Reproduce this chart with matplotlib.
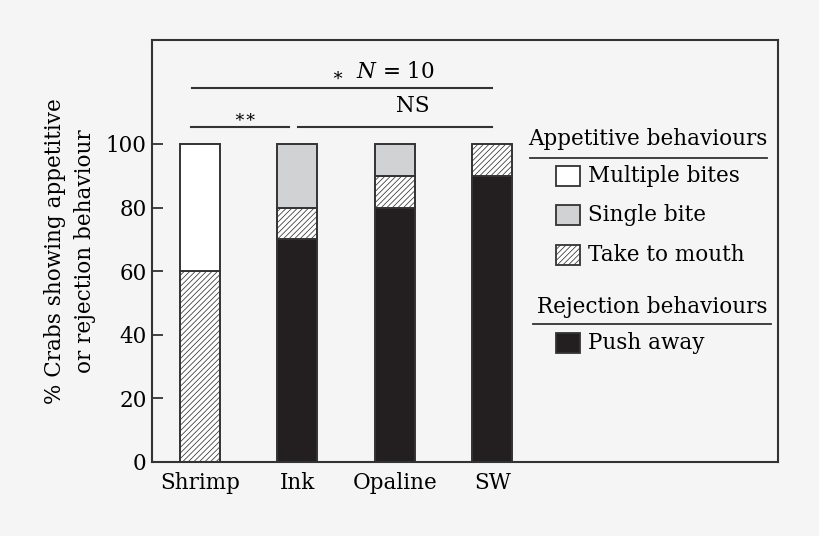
import matplotlib
matplotlib.use("Agg")
import matplotlib.pyplot as plt
from matplotlib.patches import Rectangle
import numpy as np

categories = ["Shrimp", "Ink", "Opaline", "SW"]
push_away = [0, 70, 80, 90]
take_to_mouth = [60, 10, 10, 10]
single_bite = [0, 20, 10, 0]
multiple_bites = [40, 0, 0, 0]
yticks = [0, 20, 40, 60, 80, 100]

plt.rcParams['font.family'] = ['DejaVu Serif']
plt.rcParams['mathtext.fontset'] = 'dejavuserif'
plt.rcParams['hatch.linewidth'] = 0.55
plt.rcParams['hatch.color'] = '#5a5a5a'
FS = 15.5

bg = '#f5f5f5'
edge = '#333333'
fig = plt.figure(figsize=(8.2, 5.36), dpi=100, facecolor=bg)
ax = fig.add_axes([152/820, 1-462/536, (778-152)/820, (462-40)/536])
ax.set_facecolor(bg)

x = np.arange(len(categories))
w = 0.41
bottom = np.zeros(len(categories))
layers = [
    (push_away, '#231f20', None),
    (take_to_mouth, 'white', '//////'),
    (single_bite, '#d1d2d4', None),
    (multiple_bites, 'white', None),
]
for vals, col, hatch in layers:
    vals = np.array(vals, dtype=float)
    mask = vals > 0
    ax.bar(x[mask], vals[mask], w, bottom=bottom[mask], color=col, hatch=hatch,
           edgecolor=edge, linewidth=1.4, zorder=2)
    bottom += vals

ax.set_xlim(-0.49, 5.93)
ax.set_ylim(0, 132.7)
ax.set_yticks(yticks)
ax.set_xticks(x)
ax.set_xticklabels(categories, fontsize=FS)
ax.tick_params(axis='y', direction='in', length=8, width=1.3, labelsize=FS, color=edge, pad=4)
ax.tick_params(axis='x', length=0, pad=7)
for s in ax.spines.values():
    s.set_color(edge)
    s.set_linewidth(1.5)
ax.set_ylabel("% Crabs showing appetitive\nor rejection behaviour", fontsize=FS, linespacing=1.45, labelpad=7)

# significance annotations
ax.plot([-0.08, 3.0], [117.6, 117.6], color=edge, lw=1.5, clip_on=False)
ax.text(1.41, 121.4, "\u2217", ha='center', va='center', fontsize=13)
ax.text(1.60, 122.6, "$N$ = 10", ha='left', va='center', fontsize=FS)
ax.plot([-0.09, 0.91], [105.3, 105.3], color=edge, lw=1.5)
ax.plot([1.01, 3.0], [105.3, 105.3], color=edge, lw=1.5)
ax.text(0.46, 108.6, "\u2217\u2217", ha='center', va='center', fontsize=FS-3)
ax.text(2.18, 111.8, "NS", ha='center', va='center', fontsize=FS)

# legend drawn manually in figure pixel coordinates
def fx(px):
    return px/820
def fy(py):
    return 1 - py/536

fig.text(fx(648), fy(139), "Appetitive behaviours", ha='center', va='center', fontsize=FS)
fig.add_artist(plt.Line2D([fx(530), fx(767)], [fy(158), fy(158)], color=edge, lw=1.3))
items = [("Multiple bites", 'white', None, 176),
         ("Single bite", '#d1d2d4', None, 215),
         ("Take to mouth", 'white', '//////', 255)]
for lab, col, hatch, yy in items:
    fig.add_artist(Rectangle((fx(556), fy(yy+10)), 24/820, 20/536, facecolor=col,
                             hatch=hatch, edgecolor=edge, lw=1.3, transform=fig.transFigure))
    fig.text(fx(588), fy(yy), lab, ha='left', va='center', fontsize=FS)
fig.text(fx(652), fy(307), "Rejection behaviours", ha='center', va='center', fontsize=FS)
fig.add_artist(plt.Line2D([fx(533), fx(771)], [fy(324), fy(324)], color=edge, lw=1.3))
fig.add_artist(Rectangle((fx(556), fy(353)), 24/820, 20/536, facecolor='#231f20',
                         edgecolor=edge, lw=1.3, transform=fig.transFigure))
fig.text(fx(588), fy(343), "Push away", ha='left', va='center', fontsize=FS)

fig.savefig("out.png", dpi=100, facecolor=bg)
